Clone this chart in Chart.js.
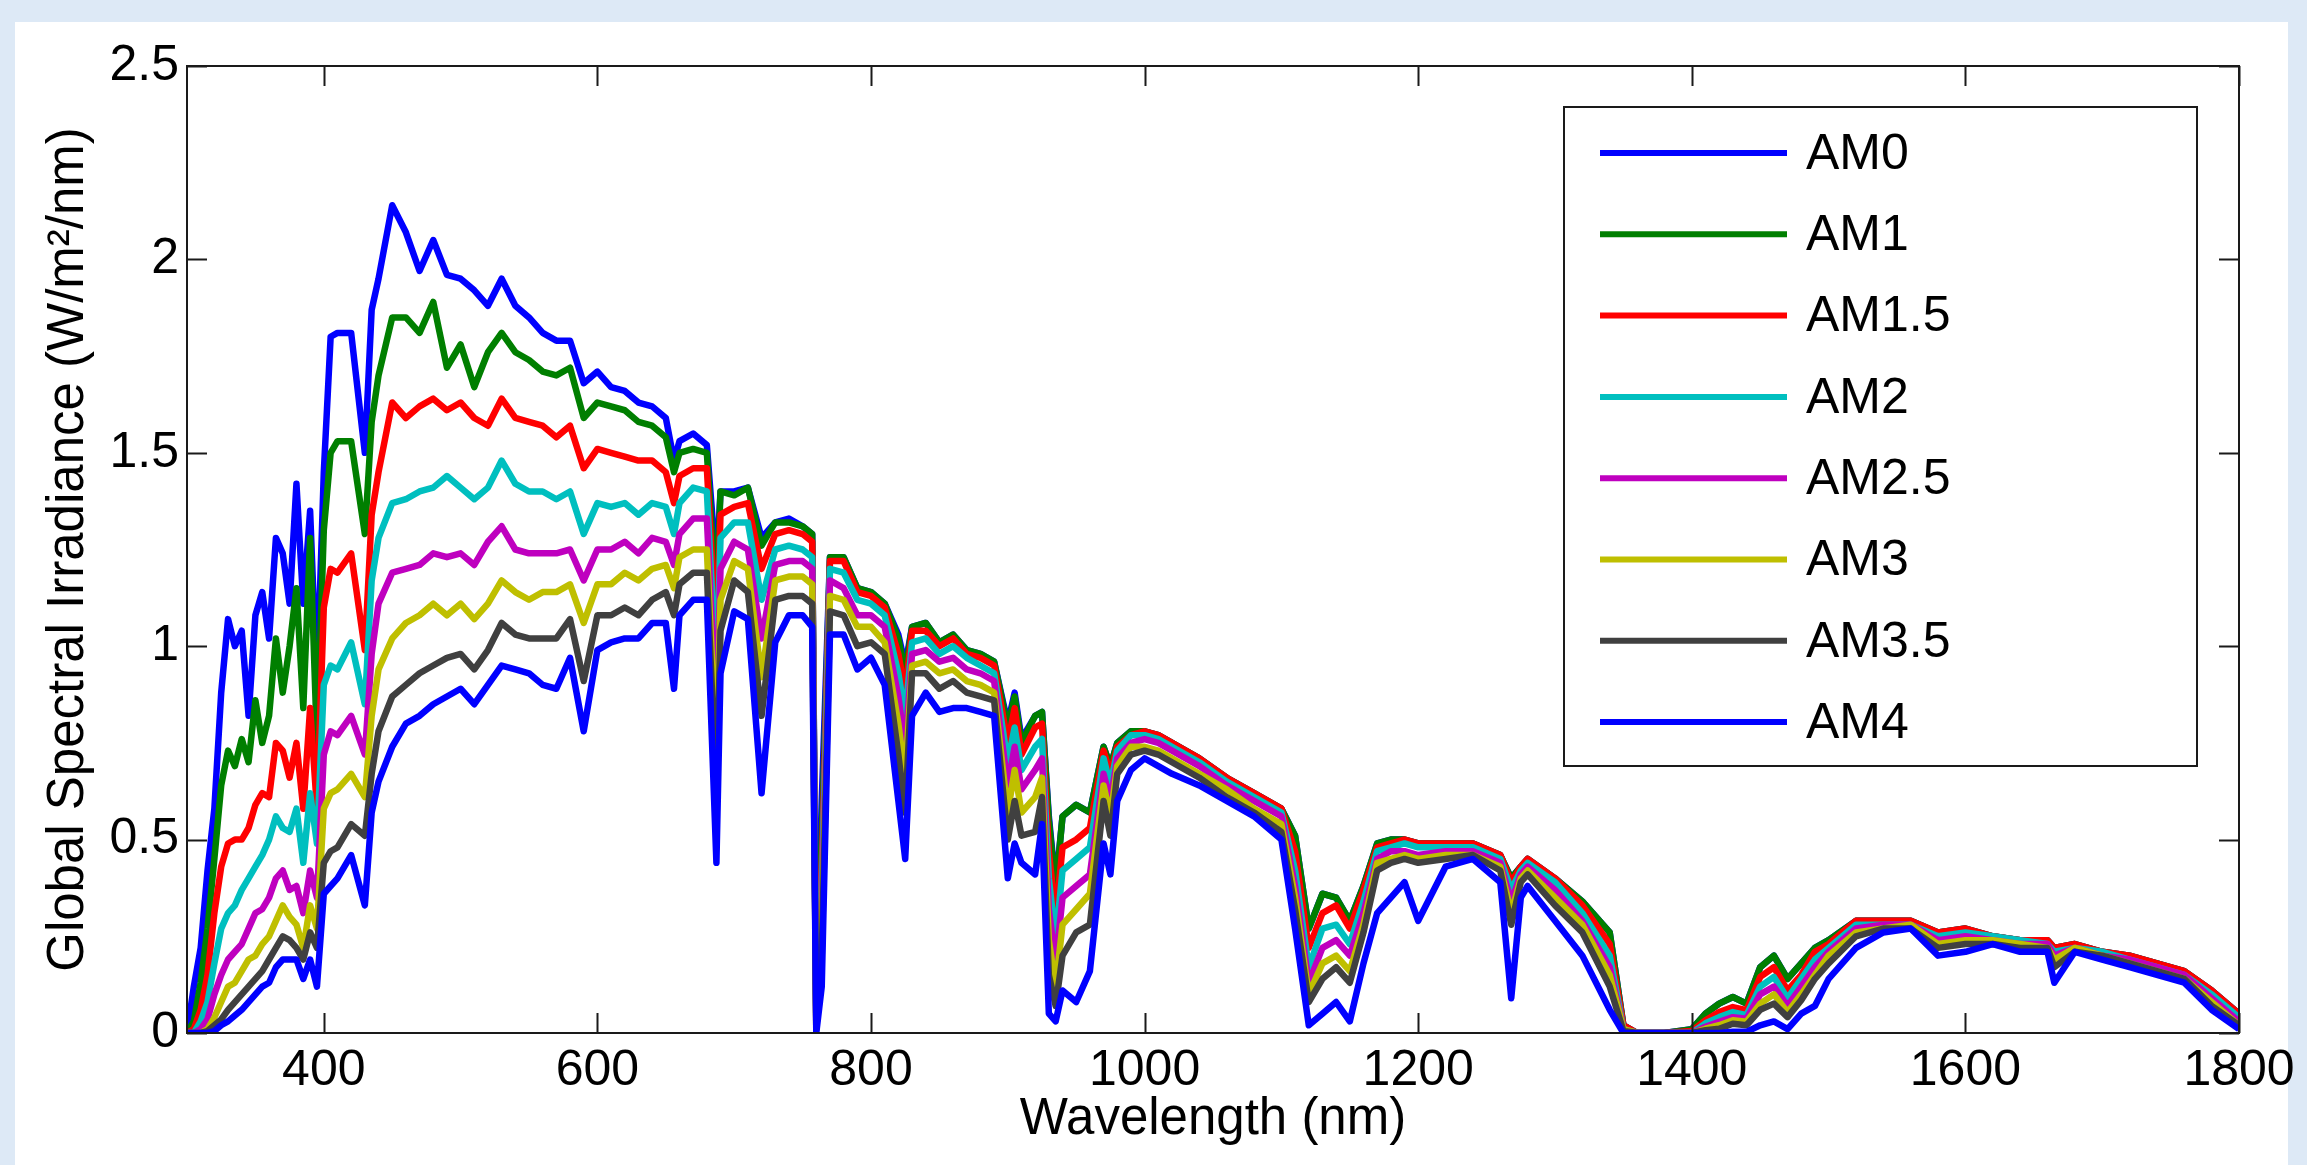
<!DOCTYPE html>
<html>
<head>
<meta charset="utf-8">
<script src="https://cdn.jsdelivr.net/npm/chart.js@4/dist/chart.umd.min.js"></script>
<style>
  html, body { margin: 0; padding: 0; background: #dde9f6; overflow: hidden; }
  #spectrum { position: absolute; left: 0; top: 0; }
</style>
</head>
<body>
<canvas id="spectrum" width="2307" height="1165"></canvas>
<script>
// wavelength grid (nm) (W/m^2/nm)
const wavelengths = [
  300, 305, 310, 315, 320, 325, 330, 335, 340, 345, 350, 355, 360, 365, 370, 375, 380, 385, 390, 395, 400,
  405, 410, 420, 430, 435, 440,
  450, 460, 470, 480, 490, 500, 510, 520, 530, 540, 550, 560, 570, 580, 590, 600, 610, 620, 630, 640, 650,
  656, 660, 670, 680, 687, 690,
  700, 710, 720, 730, 740, 750,
  757, 760, 764,
  770, 780, 790, 800, 810, 820, 825, 830,
  840, 850, 860, 870, 880, 890,
  900, 905, 910, 920, 925, 930, 935, 940,
  950, 960, 970, 975, 980, 990, 1000, 1010, 1020,
  1040, 1060, 1080, 1100,
  1110, 1120, 1130, 1140, 1150, 1160, 1170, 1180, 1190, 1200,
  1220, 1240, 1260, 1268, 1275, 1280,
  1300, 1320, 1340, 1350, 1360, 1380, 1400,
  1410, 1420, 1430, 1440, 1450, 1460, 1470, 1480, 1490, 1500,
  1520, 1540, 1560, 1580, 1600, 1620, 1640, 1660, 1665,
  1680, 1700, 1720, 1740, 1760, 1780, 1800
];

const am0 = [
  0, 0.12, 0.22, 0.42, 0.58, 0.88, 1.07, 1.00, 1.04, 0.82, 1.08, 1.14, 1.02, 1.28, 1.24, 1.11, 1.42, 1.11, 1.35, 0.90, 1.45,
  1.80, 1.81, 1.81, 1.50, 1.87, 1.95,
  2.14, 2.07, 1.97, 2.05, 1.96, 1.95, 1.92, 1.88, 1.95, 1.88, 1.85, 1.81, 1.79, 1.79, 1.68, 1.71, 1.67, 1.66, 1.63, 1.62, 1.59,
  1.48, 1.53, 1.55, 1.52, 1.20, 1.40,
  1.40, 1.41, 1.28, 1.32, 1.33, 1.31,
  1.29, 0.10, 0.60,
  1.23, 1.23, 1.15, 1.14, 1.11, 1.03, 0.95, 1.05,
  1.06, 1.01, 1.03, 0.99, 0.98, 0.96,
  0.80, 0.88, 0.76, 0.82, 0.83, 0.56, 0.38, 0.56,
  0.59, 0.57, 0.74, 0.69, 0.75, 0.78, 0.78, 0.77, 0.75,
  0.71, 0.66, 0.62, 0.58,
  0.51, 0.27, 0.36, 0.35, 0.29, 0.38, 0.49, 0.50, 0.50, 0.49,
  0.49, 0.49, 0.46, 0.40, 0.43, 0.45,
  0.40, 0.34, 0.26, 0.02, 0, 0, 0.01,
  0.05, 0.076, 0.093, 0.076, 0.17, 0.20, 0.14, 0.18, 0.22, 0.24,
  0.29, 0.29, 0.29, 0.26, 0.27, 0.25, 0.24, 0.24, 0.22,
  0.23, 0.21, 0.20, 0.18, 0.16, 0.11, 0.05
];

const am1 = [
  0, 0.03, 0.13, 0.27, 0.45, 0.64, 0.73, 0.69, 0.76, 0.70, 0.86, 0.75, 0.82, 1.02, 0.88, 1.00, 1.15, 0.84, 1.28, 0.75, 1.30,
  1.50, 1.53, 1.53, 1.29, 1.58, 1.70,
  1.85, 1.85, 1.81, 1.89, 1.72, 1.78, 1.67, 1.76, 1.81, 1.76, 1.74, 1.71, 1.70, 1.72, 1.59, 1.63, 1.62, 1.61, 1.58, 1.57, 1.54,
  1.45, 1.50, 1.51, 1.50, 1.12, 1.40,
  1.39, 1.41, 1.26, 1.32, 1.32, 1.31,
  1.29, 0.06, 0.50,
  1.23, 1.23, 1.15, 1.14, 1.11, 1.02, 0.93, 1.05,
  1.06, 1.01, 1.03, 0.99, 0.98, 0.96,
  0.79, 0.87, 0.75, 0.82, 0.83, 0.55, 0.37, 0.56,
  0.59, 0.57, 0.74, 0.69, 0.75, 0.78, 0.78, 0.77, 0.75,
  0.71, 0.66, 0.62, 0.58,
  0.51, 0.27, 0.36, 0.35, 0.29, 0.38, 0.49, 0.50, 0.50, 0.49,
  0.49, 0.49, 0.46, 0.40, 0.43, 0.45,
  0.40, 0.34, 0.26, 0.02, 0, 0, 0.01,
  0.05, 0.076, 0.093, 0.076, 0.17, 0.20, 0.14, 0.18, 0.22, 0.24,
  0.29, 0.29, 0.29, 0.26, 0.27, 0.25, 0.24, 0.24, 0.22,
  0.23, 0.21, 0.20, 0.18, 0.16, 0.11, 0.05
];

const am15 = [
  0, 0.01, 0.06, 0.15, 0.31, 0.43, 0.49, 0.50, 0.50, 0.53, 0.59, 0.62, 0.61, 0.75, 0.73, 0.66, 0.75, 0.58, 0.84, 0.58, 1.10,
  1.20, 1.19, 1.24, 0.99, 1.34, 1.45,
  1.63, 1.59, 1.62, 1.64, 1.61, 1.63, 1.59, 1.57, 1.64, 1.59, 1.58, 1.57, 1.54, 1.57, 1.46, 1.51, 1.50, 1.49, 1.48, 1.48, 1.45,
  1.37, 1.44, 1.46, 1.46, 1.02, 1.34,
  1.36, 1.37, 1.20, 1.29, 1.30, 1.29,
  1.27, 0.04, 0.42,
  1.22, 1.22, 1.14, 1.13, 1.10, 0.98, 0.88, 1.04,
  1.04, 1.00, 1.02, 0.98, 0.97, 0.95,
  0.75, 0.84, 0.72, 0.79, 0.80, 0.47, 0.30, 0.48,
  0.50, 0.53, 0.73, 0.67, 0.74, 0.77, 0.78, 0.77, 0.75,
  0.71, 0.66, 0.62, 0.58,
  0.47, 0.22, 0.31, 0.33, 0.27, 0.37, 0.48, 0.49, 0.50, 0.49,
  0.49, 0.49, 0.46, 0.39, 0.43, 0.45,
  0.40, 0.33, 0.23, 0.02, 0, 0, 0.005,
  0.033, 0.054, 0.067, 0.059, 0.145, 0.17, 0.11, 0.15, 0.21, 0.23,
  0.29, 0.29, 0.29, 0.26, 0.27, 0.25, 0.24, 0.24, 0.22,
  0.23, 0.21, 0.20, 0.18, 0.16, 0.11, 0.05
];

const am2 = [
  0, 0, 0.03, 0.08, 0.18, 0.27, 0.31, 0.33, 0.37, 0.40, 0.43, 0.46, 0.50, 0.56, 0.53, 0.52, 0.58, 0.44, 0.62, 0.49, 0.90,
  0.95, 0.94, 1.01, 0.85, 1.17, 1.28,
  1.37, 1.38, 1.40, 1.41, 1.44, 1.41, 1.38, 1.41, 1.48, 1.42, 1.40, 1.40, 1.38, 1.40, 1.29, 1.37, 1.36, 1.37, 1.34, 1.37, 1.36,
  1.29, 1.37, 1.41, 1.40, 0.92, 1.28,
  1.32, 1.32, 1.12, 1.25, 1.26, 1.25,
  1.23, 0.03, 0.36,
  1.20, 1.19, 1.12, 1.11, 1.08, 0.93, 0.82, 1.01,
  1.02, 0.98, 1.00, 0.97, 0.95, 0.93,
  0.70, 0.79, 0.68, 0.74, 0.76, 0.40, 0.24, 0.42,
  0.45, 0.48, 0.71, 0.64, 0.73, 0.77, 0.77, 0.76, 0.74,
  0.70, 0.65, 0.61, 0.57,
  0.42, 0.17, 0.27, 0.28, 0.23, 0.34, 0.47, 0.48, 0.49, 0.48,
  0.48, 0.48, 0.45, 0.37, 0.42, 0.44,
  0.39, 0.31, 0.20, 0.01, 0, 0, 0,
  0.025, 0.041, 0.054, 0.046, 0.12, 0.145, 0.09, 0.14, 0.19, 0.22,
  0.28, 0.28, 0.28, 0.25, 0.26, 0.25, 0.24, 0.23, 0.21,
  0.22, 0.21, 0.19, 0.17, 0.15, 0.10, 0.04
];

const am25 = [
  0, 0, 0.01, 0.035, 0.10, 0.15, 0.19, 0.21, 0.23, 0.27, 0.31, 0.32, 0.35, 0.40, 0.42, 0.37, 0.38, 0.31, 0.42, 0.35, 0.72,
  0.78, 0.77, 0.82, 0.72, 0.98, 1.11,
  1.19, 1.20, 1.21, 1.24, 1.23, 1.24, 1.21, 1.27, 1.31, 1.25, 1.24, 1.24, 1.24, 1.25, 1.17, 1.25, 1.25, 1.27, 1.24, 1.28, 1.27,
  1.21, 1.29, 1.33, 1.33, 0.82, 1.20,
  1.27, 1.25, 1.02, 1.21, 1.22, 1.22,
  1.20, 0.02, 0.30,
  1.17, 1.15, 1.08, 1.08, 1.05, 0.87, 0.74, 0.98,
  0.99, 0.96, 0.97, 0.94, 0.93, 0.91,
  0.64, 0.74, 0.63, 0.68, 0.71, 0.32, 0.18, 0.35,
  0.38, 0.41, 0.67, 0.60, 0.71, 0.75, 0.76, 0.75, 0.73,
  0.69, 0.64, 0.60, 0.56,
  0.38, 0.13, 0.22, 0.24, 0.20, 0.31, 0.45, 0.47, 0.47, 0.46,
  0.47, 0.47, 0.44, 0.34, 0.41, 0.43,
  0.37, 0.29, 0.17, 0.01, 0, 0, 0,
  0.016, 0.029, 0.041, 0.037, 0.10, 0.12, 0.07, 0.12, 0.17, 0.21,
  0.27, 0.28, 0.28, 0.24, 0.25, 0.24, 0.23, 0.23, 0.20,
  0.22, 0.20, 0.19, 0.17, 0.15, 0.09, 0.03
];

const am3 = [
  0, 0, 0, 0.01, 0.04, 0.08, 0.12, 0.13, 0.16, 0.19, 0.20, 0.23, 0.25, 0.29, 0.33, 0.30, 0.28, 0.22, 0.33, 0.27, 0.58,
  0.62, 0.63, 0.67, 0.61, 0.82, 0.94,
  1.02, 1.06, 1.08, 1.11, 1.08, 1.11, 1.07, 1.11, 1.17, 1.14, 1.12, 1.14, 1.14, 1.16, 1.06, 1.16, 1.16, 1.19, 1.17, 1.20, 1.21,
  1.15, 1.23, 1.25, 1.25, 0.72, 1.12,
  1.22, 1.20, 0.92, 1.17, 1.18, 1.18,
  1.16, 0.01, 0.25,
  1.13, 1.12, 1.05, 1.05, 1.01, 0.80, 0.66, 0.95,
  0.96, 0.93, 0.94, 0.91, 0.90, 0.88,
  0.57, 0.68, 0.57, 0.61, 0.66, 0.24, 0.12, 0.28,
  0.32, 0.36, 0.64, 0.56, 0.69, 0.74, 0.74, 0.73, 0.71,
  0.67, 0.63, 0.58, 0.54,
  0.35, 0.10, 0.18, 0.20, 0.16, 0.28, 0.44, 0.45, 0.46, 0.45,
  0.46, 0.46, 0.43, 0.31, 0.40, 0.42,
  0.35, 0.28, 0.15, 0.01, 0, 0, 0,
  0.011, 0.02, 0.033, 0.029, 0.076, 0.10, 0.054, 0.10, 0.15, 0.20,
  0.26, 0.27, 0.28, 0.23, 0.24, 0.24, 0.23, 0.22, 0.19,
  0.22, 0.20, 0.18, 0.16, 0.14, 0.08, 0.02
];

const am35 = [
  0, 0, 0, 0.005, 0.02, 0.035, 0.06, 0.08, 0.10, 0.12, 0.14, 0.16, 0.19, 0.22, 0.25, 0.24, 0.22, 0.19, 0.26, 0.22, 0.44,
  0.47, 0.48, 0.54, 0.51, 0.67, 0.78,
  0.87, 0.90, 0.93, 0.95, 0.97, 0.98, 0.94, 0.99, 1.06, 1.03, 1.02, 1.02, 1.02, 1.07, 0.91, 1.08, 1.08, 1.10, 1.08, 1.12, 1.14,
  1.08, 1.16, 1.19, 1.19, 0.62, 1.04,
  1.17, 1.14, 0.82, 1.12, 1.13, 1.13,
  1.11, 0.01, 0.20,
  1.09, 1.08, 1.00, 1.01, 0.98, 0.72, 0.57, 0.93,
  0.93, 0.89, 0.91, 0.88, 0.87, 0.86,
  0.50, 0.60, 0.51, 0.52, 0.61, 0.15, 0.07, 0.20,
  0.26, 0.28, 0.60, 0.51, 0.67, 0.72, 0.73, 0.72, 0.70,
  0.66, 0.61, 0.57, 0.52,
  0.32, 0.08, 0.14, 0.17, 0.13, 0.26, 0.42, 0.44, 0.45, 0.44,
  0.45, 0.46, 0.42, 0.28, 0.39, 0.41,
  0.33, 0.26, 0.12, 0.005, 0, 0, 0,
  0.007, 0.011, 0.024, 0.02, 0.06, 0.076, 0.041, 0.085, 0.14, 0.18,
  0.25, 0.27, 0.27, 0.22, 0.23, 0.23, 0.22, 0.22, 0.17,
  0.21, 0.20, 0.18, 0.16, 0.14, 0.07, 0.02
];

const am4 = [
  0, 0, 0, 0, 0.005, 0.02, 0.03, 0.045, 0.06, 0.08, 0.10, 0.12, 0.13, 0.17, 0.19, 0.19, 0.19, 0.14, 0.19, 0.12, 0.36,
  0.38, 0.40, 0.46, 0.33, 0.57, 0.65,
  0.74, 0.80, 0.82, 0.85, 0.87, 0.89, 0.85, 0.90, 0.95, 0.94, 0.93, 0.90, 0.89, 0.97, 0.78, 0.99, 1.01, 1.02, 1.02, 1.06, 1.06,
  0.89, 1.08, 1.12, 1.12, 0.44, 0.93,
  1.09, 1.07, 0.62, 1.01, 1.08, 1.08,
  1.05, 0, 0.12,
  1.03, 1.03, 0.94, 0.97, 0.90, 0.60, 0.45, 0.82,
  0.88, 0.83, 0.84, 0.84, 0.83, 0.82,
  0.40, 0.49, 0.44, 0.41, 0.54, 0.05, 0.03, 0.11,
  0.08, 0.16, 0.49, 0.41, 0.60, 0.68, 0.71, 0.69, 0.67,
  0.64, 0.60, 0.56, 0.50,
  0.27, 0.02, 0.05, 0.08, 0.03, 0.18, 0.31, 0.35, 0.39, 0.29,
  0.43, 0.45, 0.39, 0.09, 0.35, 0.38,
  0.29, 0.20, 0.06, 0, 0, 0, 0,
  0, 0, 0.003, 0.003, 0.02, 0.03, 0.01, 0.05, 0.07, 0.14,
  0.22, 0.26, 0.27, 0.20, 0.21, 0.23, 0.21, 0.21, 0.13,
  0.21, 0.19, 0.17, 0.15, 0.13, 0.06, 0.01
];

const seriesNames = ["AM0", "AM1", "AM1.5", "AM2", "AM2.5", "AM3", "AM3.5", "AM4"];
const seriesValues = [am0, am1, am15, am2, am25, am3, am35, am4];
const seriesColors = ["#0000ff", "#007f00", "#ff0000", "#00bfbf", "#bf00bf", "#bfbf00", "#404040", "#0000ff"];

const xTicks = [400, 600, 800, 1000, 1200, 1400, 1600, 1800];
const yTicks = [0, 0.5, 1, 1.5, 2, 2.5];

const FONT = "'Liberation Sans', Arial, Helvetica, sans-serif";

// page look, MATLAB style box with inward ticks, and the boxed legend
const matlabFrame = {
  id: "matlabFrame",
  beforeDraw(chart) {
    const ctx = chart.ctx;
    ctx.save();
    ctx.fillStyle = "#dde9f6";
    ctx.fillRect(0, 0, chart.width, chart.height);
    ctx.fillStyle = "#ffffff";
    ctx.fillRect(15, 22, 2273, chart.height - 22);
    ctx.restore();
  },
  afterDatasetsDraw(chart) {
    const { ctx, chartArea: a, scales: { x, y } } = chart;
    const len = 20;
    ctx.save();
    ctx.strokeStyle = "#1a1a1a";
    ctx.lineWidth = 2;
    ctx.beginPath();
    xTicks.forEach(v => {
      const px = Math.round(x.getPixelForValue(v)) + 0.5;
      ctx.moveTo(px, a.bottom); ctx.lineTo(px, a.bottom - len);
      ctx.moveTo(px, a.top); ctx.lineTo(px, a.top + len);
    });
    yTicks.forEach(v => {
      const py = Math.round(y.getPixelForValue(v)) + 0.5;
      ctx.moveTo(a.left, py); ctx.lineTo(a.left + len, py);
      ctx.moveTo(a.right, py); ctx.lineTo(a.right - len, py);
    });
    ctx.stroke();
    ctx.strokeRect(a.left, a.top, a.right - a.left, a.bottom - a.top);

    // legend
    const box = { left: 1564, top: 107, right: 2197, bottom: 766 };
    ctx.fillStyle = "#ffffff";
    ctx.fillRect(box.left, box.top, box.right - box.left, box.bottom - box.top);
    ctx.strokeRect(box.left, box.top, box.right - box.left, box.bottom - box.top);
    ctx.font = "50px " + FONT;
    ctx.textBaseline = "middle";
    ctx.textAlign = "left";
    chart.data.datasets.forEach((ds, i) => {
      const cy = 153 + i * 81.3;
      ctx.strokeStyle = ds.borderColor;
      ctx.lineWidth = 6;
      ctx.beginPath();
      ctx.moveTo(1600, cy);
      ctx.lineTo(1787, cy);
      ctx.stroke();
      ctx.fillStyle = "#000";
      ctx.fillText(ds.label, 1806, cy + 2);
    });
    ctx.restore();
  }
};

new Chart(document.getElementById("spectrum"), {
  type: "line",
  data: {
    datasets: seriesNames.map((name, i) => ({
      label: name,
      data: wavelengths.map((w, k) => ({ x: w, y: seriesValues[i][k] })),
      borderColor: seriesColors[i],
      backgroundColor: seriesColors[i],
      borderWidth: 6.5,
      borderJoinStyle: "round",
      pointRadius: 0,
      tension: 0,
      order: seriesNames.length - i
    }))
  },
  options: {
    responsive: false,
    devicePixelRatio: 1,
    animation: false,
    layout: { padding: { left: 0, top: 66, right: 68, bottom: 0 } },
    plugins: {
      legend: { display: false },
      tooltip: { enabled: false }
    },
    scales: {
      x: {
        type: "linear",
        min: 300,
        max: 1800,
        afterBuildTicks: s => { s.ticks = xTicks.map(v => ({ value: v })); },
        afterFit: s => { s.height = 132; },
        grid: { display: false, drawTicks: false },
        border: { display: false },
        ticks: {
          color: "#000",
          font: { family: FONT, size: 50 },
          padding: 8,
          maxRotation: 0,
          autoSkip: false,
          callback: v => String(v)
        },
        title: {
          display: true,
          text: "Wavelength (nm)",
          color: "#000",
          font: { family: FONT, size: 51 },
          padding: { top: 0, bottom: 14 }
        }
      },
      y: {
        type: "linear",
        min: 0,
        max: 2.5,
        afterBuildTicks: s => { s.ticks = yTicks.map(v => ({ value: v })); },
        afterFit: s => { s.width = 187; },
        grid: { display: false, drawTicks: false },
        border: { display: false },
        ticks: {
          color: "#000",
          font: { family: FONT, size: 50 },
          padding: 8,
          callback: v => String(v)
        },
        title: {
          display: true,
          text: "Global Spectral Irradiance (W/m²/nm)",
          color: "#000",
          font: { family: FONT, size: 51 },
          padding: { top: 38, bottom: 0 }
        }
      }
    }
  },
  plugins: [matlabFrame]
});
</script>
</body>
</html>
